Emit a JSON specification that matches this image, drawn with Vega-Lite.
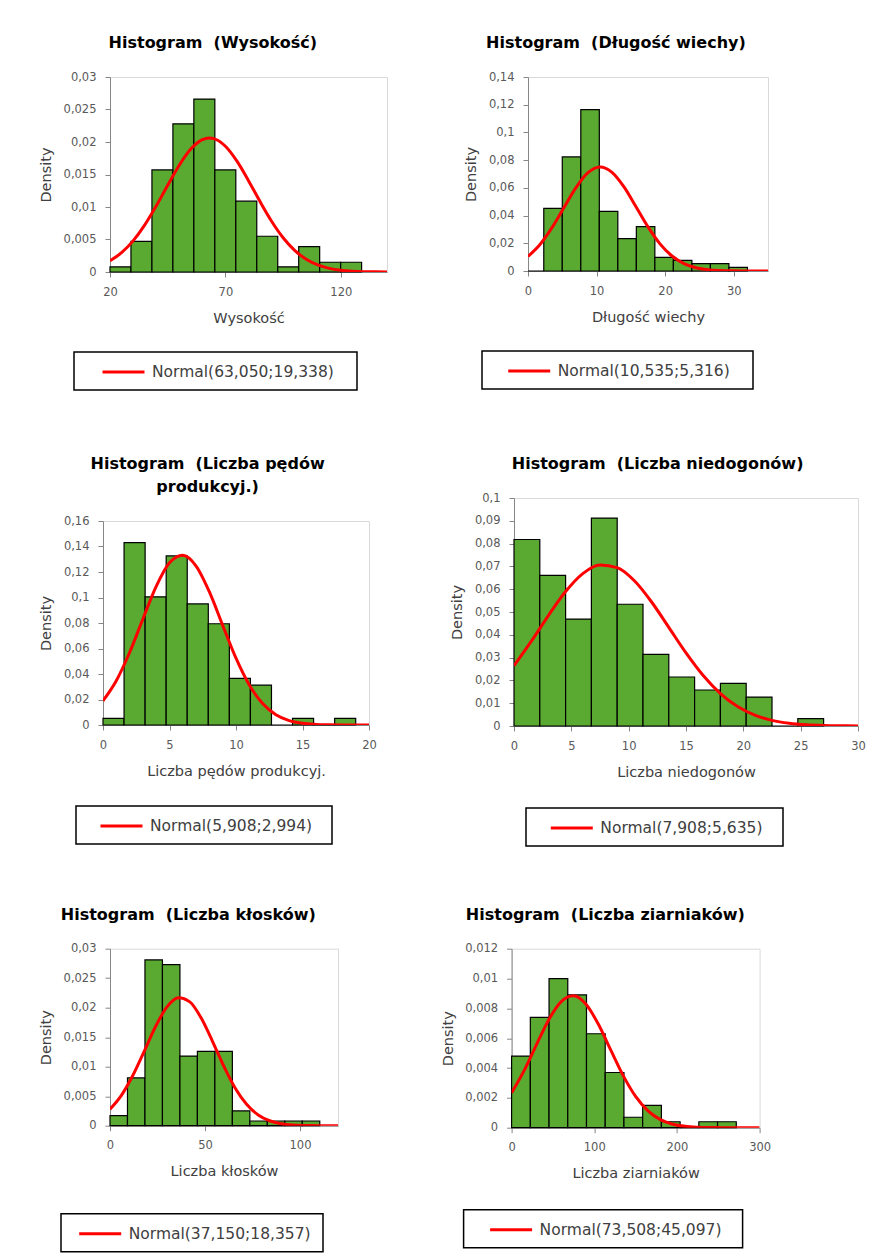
{
 "$schema": "https://vega.github.io/schema/vega-lite/v6.json",
 "padding": {"left": 37, "top": 34, "right": 5, "bottom": 5},
 "background": "white",
 "spacing": 62,
 "resolve": {"scale": {"color": "independent"}, "legend": {"color": "independent"}},
 "vconcat": [
  {"spacing": 0, "resolve": {"scale": {"color": "independent"}, "legend": {"color": "independent"}}, "hconcat": [
   {"width": 1, "height": 1, "view": {"fill": "white", "stroke": null}, "data": {"values": []}, "mark": "point"},
   {"spacing": 75, "resolve": {"scale": {"color": "independent"}, "legend": {"color": "independent"}}, "hconcat": [
   {"width": 277, "height": 195, "title": {"text": "Histogram \u00a0(Wysokość)"},
    "layer": [
     {"data": {"values": [
       {"x0": 20, "x1": 29.08, "density": 0.0008}, {"x0": 29.08, "x1": 38.17, "density": 0.0047},
       {"x0": 38.17, "x1": 47.25, "density": 0.0157}, {"x0": 47.25, "x1": 56.33, "density": 0.0228},
       {"x0": 56.33, "x1": 65.42, "density": 0.0266}, {"x0": 65.42, "x1": 74.5, "density": 0.0157},
       {"x0": 74.5, "x1": 83.58, "density": 0.0109}, {"x0": 83.58, "x1": 92.67, "density": 0.0055},
       {"x0": 92.67, "x1": 101.75, "density": 0.0008}, {"x0": 101.75, "x1": 110.83, "density": 0.0039},
       {"x0": 110.83, "x1": 119.92, "density": 0.0015}, {"x0": 119.92, "x1": 129, "density": 0.0015}]},
      "mark": {"type": "rect", "fill": "#5AAA32", "stroke": "#000000", "strokeWidth": 1.2},
      "encoding": {
       "x": {"field": "x0", "type": "quantitative", "scale": {"domain": [20, 140], "nice": false, "zero": false}, "axis": {"values": [20, 70, 120], "title": "Wysokość", "labelExpr": "replace(format(datum.value, '~r'), '.', ',')"}},
       "x2": {"field": "x1"},
       "y": {"field": "density", "type": "quantitative", "scale": {"domain": [0, 0.03], "nice": false}, "axis": {"values": [0, 0.005, 0.01, 0.015, 0.02, 0.025, 0.03], "title": "Density", "labelExpr": "replace(format(datum.value, '~r'), '.', ',')"}},
       "y2": {"datum": 0}}},
     {"data": {"values": [
       {"x": 20, "density": 0.001731}, {"x": 25, "density": 0.002976}, {"x": 30, "density": 0.004788},
       {"x": 35, "density": 0.007205}, {"x": 40, "density": 0.010139}, {"x": 45, "density": 0.013345},
       {"x": 50, "density": 0.016429}, {"x": 55, "density": 0.018917}, {"x": 60, "density": 0.020375},
       {"x": 63.05, "density": 0.02063}, {"x": 65, "density": 0.020525}, {"x": 70, "density": 0.01934},
       {"x": 75, "density": 0.017045}, {"x": 80, "density": 0.01405}, {"x": 85, "density": 0.010833},
       {"x": 90, "density": 0.007812}, {"x": 95, "density": 0.005269}, {"x": 100, "density": 0.003324},
       {"x": 105, "density": 0.001961}, {"x": 110, "density": 0.001083}, {"x": 115, "density": 0.000559},
       {"x": 120, "density": 0.00027}, {"x": 125, "density": 0.000122}, {"x": 130, "density": 0.0000515},
       {"x": 135, "density": 0.0000203}, {"x": 140, "density": 0.0000075}]},
      "mark": {"type": "line", "strokeWidth": 3, "interpolate": "monotone", "clip": true},
      "encoding": {
       "x": {"field": "x", "type": "quantitative", "axis": {"values": [20, 70, 120], "title": "Wysokość", "labelExpr": "replace(format(datum.value, '~r'), '.', ',')"}},
       "y": {"field": "density", "type": "quantitative", "axis": {"values": [0, 0.005, 0.01, 0.015, 0.02, 0.025, 0.03], "title": "Density", "labelExpr": "replace(format(datum.value, '~r'), '.', ',')"}},
       "color": {"datum": "Normal(63,050;19,338)", "scale": {"range": ["#FF0000"]}, "legend": {"title": "\u00a0", "orient": "none", "legendX": -36, "legendY": 275, "symbolOffset": 29.5, "titlePadding": 14}}}}
    ]},
   {"width": 240, "height": 194, "title": {"text": "Histogram \u00a0(Długość wiechy)"},
    "layer": [
     {"data": {"values": [
       {"x0": 0, "x1": 2.3, "density": 0}, {"x0": 2.3, "x1": 5.0, "density": 0.0452},
       {"x0": 5.0, "x1": 7.7, "density": 0.0823}, {"x0": 7.7, "x1": 10.4, "density": 0.1165},
       {"x0": 10.4, "x1": 13.1, "density": 0.0431}, {"x0": 13.1, "x1": 15.8, "density": 0.0233},
       {"x0": 15.8, "x1": 18.5, "density": 0.032}, {"x0": 18.5, "x1": 21.2, "density": 0.0099},
       {"x0": 21.2, "x1": 23.9, "density": 0.0077}, {"x0": 23.9, "x1": 26.6, "density": 0.0053},
       {"x0": 26.6, "x1": 29.3, "density": 0.0053}, {"x0": 29.3, "x1": 32.0, "density": 0.0026}]},
      "mark": {"type": "rect", "fill": "#5AAA32", "stroke": "#000000", "strokeWidth": 1.2},
      "encoding": {
       "x": {"field": "x0", "type": "quantitative", "scale": {"domain": [0, 35], "nice": false, "zero": false}, "axis": {"values": [0, 10, 20, 30], "title": "Długość wiechy", "labelExpr": "replace(format(datum.value, '~r'), '.', ',')"}},
       "x2": {"field": "x1"},
       "y": {"field": "density", "type": "quantitative", "scale": {"domain": [0, 0.14], "nice": false}, "axis": {"values": [0, 0.02, 0.04, 0.06, 0.08, 0.1, 0.12, 0.14], "title": "Density", "labelExpr": "replace(format(datum.value, '~r'), '.', ',')"}},
       "y2": {"datum": 0}}},
     {"data": {"values": [
       {"x": 0, "density": 0.010532}, {"x": 1.75, "density": 0.019155}, {"x": 3.5, "density": 0.031263},
       {"x": 5.25, "density": 0.045782}, {"x": 7, "density": 0.06016}, {"x": 8.75, "density": 0.070932},
       {"x": 10.5, "density": 0.075045}, {"x": 12.25, "density": 0.071241}, {"x": 14, "density": 0.060684},
       {"x": 15.75, "density": 0.046381}, {"x": 17.5, "density": 0.031812}, {"x": 19.25, "density": 0.019576},
       {"x": 21, "density": 0.010811}, {"x": 22.75, "density": 0.005355}, {"x": 24.5, "density": 0.002381},
       {"x": 26.25, "density": 0.00095}, {"x": 28, "density": 0.00034}, {"x": 29.75, "density": 0.000109},
       {"x": 31.5, "density": 0.0000315}, {"x": 33.25, "density": 0.0000081}, {"x": 35, "density": 0.0000019}]},
      "mark": {"type": "line", "strokeWidth": 3, "interpolate": "monotone", "clip": true},
      "encoding": {
       "x": {"field": "x", "type": "quantitative", "axis": {"values": [0, 10, 20, 30], "title": "Długość wiechy", "labelExpr": "replace(format(datum.value, '~r'), '.', ',')"}},
       "y": {"field": "density", "type": "quantitative", "axis": {"values": [0, 0.02, 0.04, 0.06, 0.08, 0.1, 0.12, 0.14], "title": "Density", "labelExpr": "replace(format(datum.value, '~r'), '.', ',')"}},
       "color": {"datum": "Normal(10,535;5,316)", "scale": {"range": ["#FF0000"]}, "legend": {"title": "\u00a0", "orient": "none", "legendX": -46, "legendY": 274, "symbolOffset": 27.2, "titlePadding": 13.3}}}}
    ]}
   ]}
  ]},
  {"spacing": 57.7, "resolve": {"scale": {"color": "independent"}, "legend": {"color": "independent"}}, "vconcat": [
  {"spacing": 0, "resolve": {"scale": {"color": "independent"}, "legend": {"color": "independent"}}, "hconcat": [
   {"width": 1, "height": 1, "view": {"fill": "white", "stroke": null}, "data": {"values": []}, "mark": "point"},
   {"spacing": 72, "resolve": {"scale": {"color": "independent"}, "legend": {"color": "independent"}}, "hconcat": [
    {"spacing": 0, "resolve": {"scale": {"color": "independent"}, "legend": {"color": "independent"}}, "vconcat": [
     {"width": 1, "height": 1, "view": {"fill": "white", "stroke": null}, "data": {"values": []}, "mark": "point"},
     {"width": 266, "height": 204, "title": {"text": ["Histogram \u00a0(Liczba pędów", "produkcyj.)"]},
    "layer": [
     {"data": {"values": [
       {"x0": 0, "x1": 1.583, "density": 0.0052}, {"x0": 1.583, "x1": 3.167, "density": 0.1431},
       {"x0": 3.167, "x1": 4.75, "density": 0.1005}, {"x0": 4.75, "x1": 6.333, "density": 0.1326},
       {"x0": 6.333, "x1": 7.917, "density": 0.095}, {"x0": 7.917, "x1": 9.5, "density": 0.0794},
       {"x0": 9.5, "x1": 11.083, "density": 0.0366}, {"x0": 11.083, "x1": 12.667, "density": 0.0313},
       {"x0": 12.667, "x1": 14.25, "density": 0}, {"x0": 14.25, "x1": 15.833, "density": 0.0052},
       {"x0": 15.833, "x1": 17.417, "density": 0}, {"x0": 17.417, "x1": 19, "density": 0.0052}]},
      "mark": {"type": "rect", "fill": "#5AAA32", "stroke": "#000000", "strokeWidth": 1.2},
      "encoding": {
       "x": {"field": "x0", "type": "quantitative", "scale": {"domain": [0, 20], "nice": false, "zero": false}, "axis": {"values": [0, 5, 10, 15, 20], "title": "Liczba pędów produkcyj.", "labelExpr": "replace(format(datum.value, '~r'), '.', ',')"}},
       "x2": {"field": "x1"},
       "y": {"field": "density", "type": "quantitative", "scale": {"domain": [0, 0.16], "nice": false}, "axis": {"values": [0, 0.02, 0.04, 0.06, 0.08, 0.1, 0.12, 0.14, 0.16], "title": "Density", "labelExpr": "replace(format(datum.value, '~r'), '.', ',')"}},
       "y2": {"datum": 0}}},
     {"data": {"values": [
       {"x": 0, "density": 0.019019}, {"x": 1, "density": 0.034762}, {"x": 2, "density": 0.056846},
       {"x": 3, "density": 0.083139}, {"x": 4, "density": 0.108761}, {"x": 5, "density": 0.127259},
       {"x": 6, "density": 0.133187}, {"x": 7, "density": 0.124677}, {"x": 8, "density": 0.104389},
       {"x": 9, "density": 0.078175}, {"x": 10, "density": 0.052365}, {"x": 11, "density": 0.031374},
       {"x": 12, "density": 0.016815}, {"x": 13, "density": 0.00806}, {"x": 14, "density": 0.003455},
       {"x": 15, "density": 0.001325}, {"x": 16, "density": 0.000455}, {"x": 17, "density": 0.00014},
       {"x": 18, "density": 0.0000383}, {"x": 19, "density": 0.0000094}, {"x": 20, "density": 0.0000021}]},
      "mark": {"type": "line", "strokeWidth": 3, "interpolate": "monotone", "clip": true},
      "encoding": {
       "x": {"field": "x", "type": "quantitative", "axis": {"values": [0, 5, 10, 15, 20], "title": "Liczba pędów produkcyj.", "labelExpr": "replace(format(datum.value, '~r'), '.', ',')"}},
       "y": {"field": "density", "type": "quantitative", "axis": {"values": [0, 0.02, 0.04, 0.06, 0.08, 0.1, 0.12, 0.14, 0.16], "title": "Density", "labelExpr": "replace(format(datum.value, '~r'), '.', ',')"}},
       "color": {"datum": "Normal(5,908;2,994)", "scale": {"range": ["#FF0000"]}, "legend": {"title": "\u00a0", "orient": "none", "legendX": -27, "legendY": 285, "symbolOffset": 25.5, "titlePadding": 9.4}}}}
    ]}
    ]},
    {"spacing": 0, "resolve": {"scale": {"color": "independent"}, "legend": {"color": "independent"}}, "vconcat": [
     {"width": 1, "height": 1, "view": {"fill": "white", "stroke": null}, "data": {"values": []}, "mark": "point"},
     {"width": 344, "height": 228, "title": {"text": "Histogram \u00a0(Liczba niedogonów)"},
    "layer": [
     {"data": {"values": [
       {"x0": 0, "x1": 2.25, "density": 0.0818}, {"x0": 2.25, "x1": 4.5, "density": 0.0661},
       {"x0": 4.5, "x1": 6.75, "density": 0.0469}, {"x0": 6.75, "x1": 9, "density": 0.0912},
       {"x0": 9, "x1": 11.25, "density": 0.0534}, {"x0": 11.25, "x1": 13.5, "density": 0.0314},
       {"x0": 13.5, "x1": 15.75, "density": 0.0215}, {"x0": 15.75, "x1": 18, "density": 0.0158},
       {"x0": 18, "x1": 20.25, "density": 0.0187}, {"x0": 20.25, "x1": 22.5, "density": 0.0127},
       {"x0": 22.5, "x1": 24.75, "density": 0}, {"x0": 24.75, "x1": 27, "density": 0.0032}]},
      "mark": {"type": "rect", "fill": "#5AAA32", "stroke": "#000000", "strokeWidth": 1.2},
      "encoding": {
       "x": {"field": "x0", "type": "quantitative", "scale": {"domain": [0, 30], "nice": false, "zero": false}, "axis": {"values": [0, 5, 10, 15, 20, 25, 30], "title": "Liczba niedogonów", "labelExpr": "replace(format(datum.value, '~r'), '.', ',')"}},
       "x2": {"field": "x1"},
       "y": {"field": "density", "type": "quantitative", "scale": {"domain": [0, 0.1], "nice": false}, "axis": {"values": [0, 0.01, 0.02, 0.03, 0.04, 0.05, 0.06, 0.07, 0.08, 0.09, 0.1], "title": "Density", "labelExpr": "replace(format(datum.value, '~r'), '.', ',')"}},
       "y2": {"datum": 0}}},
     {"data": {"values": [
       {"x": 0, "density": 0.026444}, {"x": 1.5, "density": 0.037086}, {"x": 3, "density": 0.048449},
       {"x": 4.5, "density": 0.058963}, {"x": 6, "density": 0.066852}, {"x": 7.5, "density": 0.070612},
       {"x": 9, "density": 0.06948}, {"x": 10.5, "density": 0.06369}, {"x": 12, "density": 0.054387},
       {"x": 13.5, "density": 0.043267}, {"x": 15, "density": 0.032067}, {"x": 16.5, "density": 0.022138},
       {"x": 18, "density": 0.014239}, {"x": 19.5, "density": 0.008532}, {"x": 21, "density": 0.004763},
       {"x": 22.5, "density": 0.002477}, {"x": 24, "density": 0.0012}, {"x": 25.5, "density": 0.000542},
       {"x": 27, "density": 0.000228}, {"x": 28.5, "density": 0.0000892}, {"x": 30, "density": 0.0000325}]},
      "mark": {"type": "line", "strokeWidth": 3, "interpolate": "monotone", "clip": true},
      "encoding": {
       "x": {"field": "x", "type": "quantitative", "axis": {"values": [0, 5, 10, 15, 20, 25, 30], "title": "Liczba niedogonów", "labelExpr": "replace(format(datum.value, '~r'), '.', ',')"}},
       "y": {"field": "density", "type": "quantitative", "axis": {"values": [0, 0.01, 0.02, 0.03, 0.04, 0.05, 0.06, 0.07, 0.08, 0.09, 0.1], "title": "Density", "labelExpr": "replace(format(datum.value, '~r'), '.', ',')"}},
       "color": {"datum": "Normal(7,908;5,635)", "scale": {"range": ["#FF0000"]}, "legend": {"title": "\u00a0", "orient": "none", "legendX": 12, "legendY": 310, "symbolOffset": 25.8, "titlePadding": 10.6}}}}
    ]}
    ]}
   ]}
  ]},
  {"spacing": 0, "resolve": {"scale": {"color": "independent"}, "legend": {"color": "independent"}}, "hconcat": [
   {"width": 1, "height": 1, "view": {"fill": "white", "stroke": null}, "data": {"values": []}, "mark": "point"},
   {"spacing": 100.6, "resolve": {"scale": {"color": "independent"}, "legend": {"color": "independent"}}, "hconcat": [
   {"width": 228, "height": 177, "title": {"text": "Histogram \u00a0(Liczba kłosków)"},
    "layer": [
     {"data": {"values": [
       {"x0": 0, "x1": 9.2, "density": 0.0017}, {"x0": 9.2, "x1": 18.4, "density": 0.0081},
       {"x0": 18.4, "x1": 27.6, "density": 0.0281}, {"x0": 27.6, "x1": 36.8, "density": 0.0273},
       {"x0": 36.8, "x1": 46, "density": 0.0118}, {"x0": 46, "x1": 55.2, "density": 0.0126},
       {"x0": 55.2, "x1": 64.4, "density": 0.0126}, {"x0": 64.4, "x1": 73.6, "density": 0.0025},
       {"x0": 73.6, "x1": 82.8, "density": 0.0008}, {"x0": 82.8, "x1": 92, "density": 0.0008},
       {"x0": 92, "x1": 101.2, "density": 0.0008}, {"x0": 101.2, "x1": 110.4, "density": 0.0008}]},
      "mark": {"type": "rect", "fill": "#5AAA32", "stroke": "#000000", "strokeWidth": 1.2},
      "encoding": {
       "x": {"field": "x0", "type": "quantitative", "scale": {"domain": [0, 120], "nice": false, "zero": false}, "axis": {"values": [0, 50, 100], "title": "Liczba kłosków", "labelExpr": "replace(format(datum.value, '~r'), '.', ',')"}},
       "x2": {"field": "x1"},
       "y": {"field": "density", "type": "quantitative", "scale": {"domain": [0, 0.03], "nice": false}, "axis": {"values": [0, 0.005, 0.01, 0.015, 0.02, 0.025, 0.03], "title": "Density", "labelExpr": "replace(format(datum.value, '~r'), '.', ',')"}},
       "y2": {"datum": 0}}},
     {"data": {"values": [
       {"x": 0, "density": 0.002804}, {"x": 6, "density": 0.00515}, {"x": 12, "density": 0.008502},
       {"x": 18, "density": 0.012612}, {"x": 24, "density": 0.016816}, {"x": 30, "density": 0.020145},
       {"x": 36, "density": 0.02169}, {"x": 42, "density": 0.020988}, {"x": 48, "density": 0.018249},
       {"x": 54, "density": 0.014262}, {"x": 60, "density": 0.010016}, {"x": 66, "density": 0.006321},
       {"x": 72, "density": 0.003585}, {"x": 78, "density": 0.001827}, {"x": 84, "density": 0.000837},
       {"x": 90, "density": 0.000345}, {"x": 96, "density": 0.000127}, {"x": 102, "density": 0.0000424},
       {"x": 108, "density": 0.0000127}, {"x": 114, "density": 0.0000034}, {"x": 120, "density": 0.0000009}]},
      "mark": {"type": "line", "strokeWidth": 3, "interpolate": "monotone", "clip": true},
      "encoding": {
       "x": {"field": "x", "type": "quantitative", "axis": {"values": [0, 50, 100], "title": "Liczba kłosków", "labelExpr": "replace(format(datum.value, '~r'), '.', ',')"}},
       "y": {"field": "density", "type": "quantitative", "axis": {"values": [0, 0.005, 0.01, 0.015, 0.02, 0.025, 0.03], "title": "Density", "labelExpr": "replace(format(datum.value, '~r'), '.', ',')"}},
       "color": {"datum": "Normal(37,150;18,357)", "scale": {"range": ["#FF0000"]}, "legend": {"title": "\u00a0", "orient": "none", "legendX": -49, "legendY": 265, "symbolOffset": 19.2, "titlePadding": 3}}}}
    ]},
   {"width": 248, "height": 179, "title": {"text": "Histogram \u00a0(Liczba ziarniaków)"},
    "layer": [
     {"data": {"values": [
       {"x0": 0, "x1": 22.65, "density": 0.0048}, {"x0": 22.65, "x1": 45.3, "density": 0.0074},
       {"x0": 45.3, "x1": 67.95, "density": 0.01}, {"x0": 67.95, "x1": 90.6, "density": 0.0089},
       {"x0": 90.6, "x1": 113.25, "density": 0.0063}, {"x0": 113.25, "x1": 135.9, "density": 0.0037},
       {"x0": 135.9, "x1": 158.55, "density": 0.0007}, {"x0": 158.55, "x1": 181.2, "density": 0.0015},
       {"x0": 181.2, "x1": 203.85, "density": 0.0004}, {"x0": 203.85, "x1": 226.5, "density": 0},
       {"x0": 226.5, "x1": 249.15, "density": 0.0004}, {"x0": 249.15, "x1": 271.8, "density": 0.0004}]},
      "mark": {"type": "rect", "fill": "#5AAA32", "stroke": "#000000", "strokeWidth": 1.2},
      "encoding": {
       "x": {"field": "x0", "type": "quantitative", "scale": {"domain": [0, 300], "nice": false, "zero": false}, "axis": {"values": [0, 100, 200, 300], "title": "Liczba ziarniaków", "labelExpr": "replace(format(datum.value, '~r'), '.', ',')"}},
       "x2": {"field": "x1"},
       "y": {"field": "density", "type": "quantitative", "scale": {"domain": [0, 0.012], "nice": false}, "axis": {"values": [0, 0.002, 0.004, 0.006, 0.008, 0.01, 0.012], "title": "Density", "labelExpr": "replace(format(datum.value, '~r'), '.', ',')"}},
       "y2": {"datum": 0}}},
     {"data": {"values": [
       {"x": 0, "density": 0.002343}, {"x": 15, "density": 0.003813}, {"x": 30, "density": 0.005555},
       {"x": 45, "density": 0.007244}, {"x": 60, "density": 0.008458}, {"x": 75, "density": 0.008842},
       {"x": 90, "density": 0.008274}, {"x": 105, "density": 0.006932}, {"x": 120, "density": 0.0052},
       {"x": 135, "density": 0.003492}, {"x": 150, "density": 0.002099}, {"x": 165, "density": 0.00113},
       {"x": 180, "density": 0.000544}, {"x": 195, "density": 0.000235}, {"x": 210, "density": 0.0000907},
       {"x": 225, "density": 0.0000314}, {"x": 240, "density": 0.0000097}, {"x": 255, "density": 0.0000027},
       {"x": 270, "density": 0.0000007}, {"x": 285, "density": 0.0000002}, {"x": 300, "density": 0}]},
      "mark": {"type": "line", "strokeWidth": 3, "interpolate": "monotone", "clip": true},
      "encoding": {
       "x": {"field": "x", "type": "quantitative", "axis": {"values": [0, 100, 200, 300], "title": "Liczba ziarniaków", "labelExpr": "replace(format(datum.value, '~r'), '.', ',')"}},
       "y": {"field": "density", "type": "quantitative", "axis": {"values": [0, 0.002, 0.004, 0.006, 0.008, 0.01, 0.012], "title": "Density", "labelExpr": "replace(format(datum.value, '~r'), '.', ',')"}},
       "color": {"datum": "Normal(73,508;45,097)", "scale": {"range": ["#FF0000"]}, "legend": {"title": "\u00a0", "orient": "none", "legendX": -48, "legendY": 261, "symbolOffset": 27.5, "titlePadding": 11.7}}}}
    ]}
   ]}
  ]}
  ]}
 ],
 "config": {
  "view": {"stroke": "#D9D9D9", "strokeWidth": 1},
  "axis": {"grid": false, "domainColor": "#868686", "tickColor": "#868686", "tickSize": 5, "labelFont": "DejaVu Sans", "labelFontSize": 11.5, "labelColor": "#595959", "titleFont": "DejaVu Sans", "titleFontSize": 14.5, "titleFontWeight": "normal", "titleColor": "#404040", "labelPadding": 9},
  "axisX": {"titlePadding": 13.5, "labelFlush": false},
  "axisY": {"titlePadding": 9.5},
  "title": {"font": "DejaVu Sans", "fontSize": 16, "fontWeight": "bold", "color": "#000000", "frame": "bounds", "anchor": "middle", "baseline": "bottom", "offset": 20, "lineHeight": 23},
  "legend": {"symbolType": "M-2.333,0H2.333", "symbolSize": 324, "symbolStrokeWidth": 3, "labelFont": "DejaVu Sans", "labelFontSize": 15.5, "labelColor": "#404040", "labelOffset": 18, "labelLimit": 500, "padding": 9.5, "strokeColor": "#000000", "strokeWidth": 1.5, "fillColor": "#FFFFFF", "titleOrient": "right", "titleFontSize": 1, "titleColor": "#FFFFFF"}
 }
}
